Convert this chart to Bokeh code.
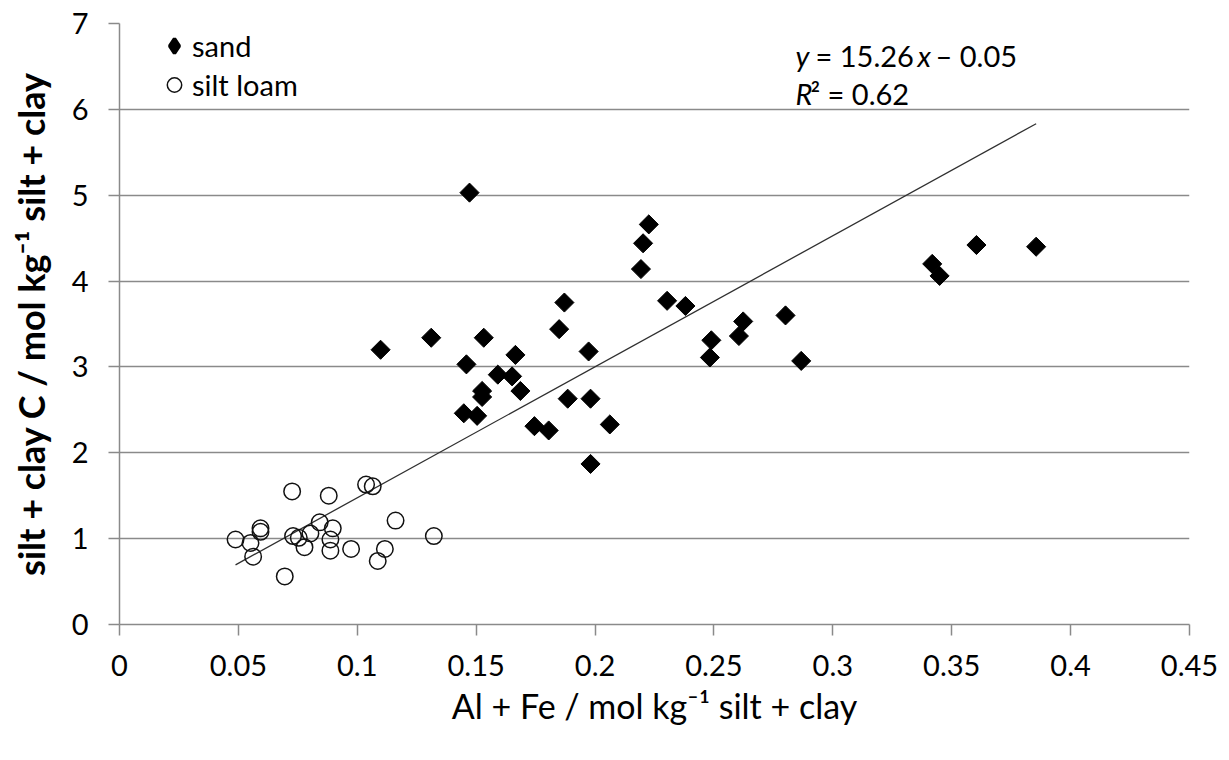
import math
from bokeh.plotting import figure
from bokeh.models import Range1d, FixedTicker, Legend, LegendItem, Label
from bokeh.embed import file_html
from bokeh.resources import INLINE

# ---- data ----
sand_x = [0.1098, 0.1311, 0.1448, 0.1459, 0.1472, 0.1504, 0.1525, 0.1525, 0.1532, 0.1591,
          0.1651, 0.1665, 0.1686, 0.1745, 0.1805, 0.1849, 0.1871, 0.1885, 0.1973, 0.1981,
          0.1981, 0.2062, 0.2193, 0.2202, 0.2226, 0.2303, 0.2380, 0.2483, 0.2489, 0.2605,
          0.2623, 0.2801, 0.2867, 0.3418, 0.3449, 0.3604, 0.3855]
sand_y = [3.20, 3.34, 2.46, 3.03, 5.03, 2.43, 2.72, 2.65, 3.34, 2.91,
          2.89, 3.14, 2.72, 2.31, 2.26, 3.44, 3.75, 2.63, 3.18, 2.63,
          1.87, 2.33, 4.14, 4.44, 4.66, 3.77, 3.71, 3.11, 3.31, 3.36,
          3.53, 3.60, 3.07, 4.20, 4.06, 4.42, 4.40]

silt_x = [0.0488, 0.0551, 0.0562, 0.0593, 0.0593, 0.0695, 0.0726, 0.0730, 0.0754, 0.0778,
          0.0803, 0.0842, 0.0880, 0.0897, 0.0887, 0.0887, 0.0974, 0.1037, 0.1065, 0.1086,
          0.1116, 0.1161, 0.1322]
silt_y = [0.99, 0.95, 0.79, 1.12, 1.08, 0.56, 1.55, 1.03, 1.01, 0.90,
          1.06, 1.19, 1.50, 1.12, 0.99, 0.86, 0.88, 1.63, 1.61, 0.74,
          0.88, 1.21, 1.03]

series_labels = ["sand", "silt loam"]
slope = 15.26
intercept = -0.05
r_squared = 0.62

x_ticks = [0.0, 0.05, 0.1, 0.15, 0.2, 0.25, 0.3, 0.35, 0.4, 0.45]
x_tick_labels = ["0", "0.05", "0.1", "0.15", "0.2", "0.25", "0.3", "0.35", "0.4", "0.45"]
y_ticks = [0, 1, 2, 3, 4, 5, 6, 7]
y_tick_labels = ["0", "1", "2", "3", "4", "5", "6", "7"]

x_title = "Al + Fe / mol kg\u207b\u00b9 silt + clay"
y_title = "silt + clay C / mol kg\u207b\u00b9 silt + clay"

FONT = "Lato"
GRID = "#8a8a8a"

p = figure(width=1229, height=760, output_backend="svg", toolbar_location=None,
           x_range=Range1d(0, 0.45), y_range=Range1d(0, 7),
           min_border_left=119, min_border_right=40, min_border_top=23, min_border_bottom=136,
           background_fill_color="white", border_fill_color="white")
p.outline_line_color = None

# axes
p.xaxis.ticker = FixedTicker(ticks=x_ticks)
p.yaxis.ticker = FixedTicker(ticks=y_ticks)
p.xaxis.major_label_overrides = dict(zip(x_ticks, x_tick_labels))
p.yaxis.major_label_overrides = dict(zip(y_ticks, y_tick_labels))
for ax in (p.xaxis, p.yaxis):
    ax.axis_line_color = GRID
    ax.axis_line_width = 1.5
    ax.major_tick_line_color = GRID
    ax.major_tick_line_width = 1.5
    ax.major_tick_in = 0
    ax.major_tick_out = 11
    ax.minor_tick_line_color = None
    ax.major_label_text_font = FONT
    ax.major_label_text_font_size = "29px"
    ax.major_label_text_color = "black"
    ax.axis_label_text_font = FONT
    ax.axis_label_text_color = "black"
p.xaxis.major_label_standoff = 19
p.yaxis.major_label_standoff = 20
p.xaxis.axis_label = x_title
p.yaxis.axis_label = y_title
p.xaxis.axis_label_text_font_size = "34px"
p.yaxis.axis_label_text_font_size = "36px"
p.xaxis.axis_label_text_font_style = "normal"
p.yaxis.axis_label_text_font_style = "bold"
p.xaxis.axis_label_standoff = 6
p.yaxis.axis_label_standoff = 16

p.xgrid.visible = False
p.ygrid.grid_line_color = GRID
p.ygrid.grid_line_width = 1.5

# regression line over the data span
all_x = sand_x + silt_x
lx = [min(all_x), max(all_x)]
ly = [slope * v + intercept for v in lx]
p.line(lx, ly, line_color="#303030", line_width=1.3)

# legend key for "sand": a small diamond drawn beneath the real markers (fully hidden)
key_sand = p.scatter(sand_x, sand_y, marker="diamond", size=7,
                     fill_color="black", line_color="black", line_width=3.5)
r_sand = p.scatter(sand_x, sand_y, marker="square", angle=math.pi / 4, size=13.5,
                   fill_color="black", line_color="black", line_width=1)
r_silt = p.scatter(silt_x, silt_y, marker="circle", size=16.5,
                   fill_color=None, line_color="#111111", line_width=1.5)

legend = Legend(items=[LegendItem(label=series_labels[0], renderers=[key_sand]),
                       LegendItem(label=series_labels[1], renderers=[r_silt])],
                location=(37, 520.5), margin=0, padding=0, spacing=0,
                glyph_width=36, glyph_height=39, label_height=39, label_standoff=0,
                label_text_font=FONT, label_text_font_size="29px",
                label_text_color="black", label_text_baseline="middle",
                border_line_color=None, background_fill_alpha=0)
p.add_layout(legend)

# equation annotation
eq_x = 0.2843
eq_y1 = 6.63
eq_y2 = 6.18
pieces = [
    ("y", 0, eq_y1, "italic"),
    ("= " + f"{slope:.2f}", 20, eq_y1, "normal"),
    ("x", 122, eq_y1, "italic"),
    ("\u2013 " + f"{abs(intercept):.2f}", 140, eq_y1, "normal"),
    ("R", 0, eq_y2, "italic"),
    ("\u00b2 = " + f"{r_squared:.2f}", 15, eq_y2, "normal"),
]
for txt, off, yy, style in pieces:
    p.add_layout(Label(x=eq_x, y=yy, x_offset=off, text=txt, text_font=FONT,
                       text_font_size="29px", text_font_style=style,
                       text_color="black", text_baseline="alphabetic", text_align="left"))

open("out.html", "w").write(file_html(p, INLINE))
